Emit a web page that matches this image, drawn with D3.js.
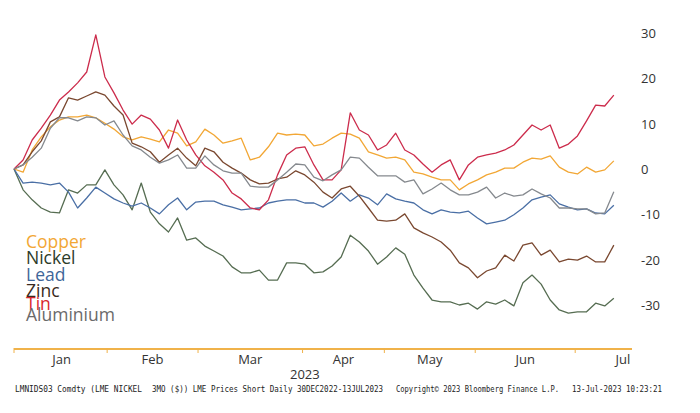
<!DOCTYPE html>
<html>
<head>
<meta charset="utf-8">
<script src="https://cdn.jsdelivr.net/npm/d3@7"></script>
<style>
  body { margin: 0; background: #fff; }
  svg { display: block; }
</style>
</head>
<body>
<svg id="chart" width="700" height="413"></svg>
<script>
// trading-day index since 30 Dec 2022, one value every second session
const days = d3.range(0, 133, 2);

// % change since 30 Dec 2022 (LME 3M prices)
const copper = [0, -0.7, 4.2, 7.1, 9.3, 10.8, 11.5, 11.5, 11.9, 11.3, 10.1, 8.8, 7.1, 6.4, 7.1, 6.6, 6.0, 8.6, 7.9, 5.1, 6.0, 8.8, 7.5, 5.7, 6.2, 6.8, 2.0, 2.6, 4.9, 7.9, 7.5, 7.7, 7.5, 5.1, 5.5, 6.8, 7.9, 7.7, 6.8, 3.8, 3.1, 2.4, 2.6, 2.0, -0.7, -1.1, -1.8, -2.4, -2.4, -4.6, -3.3, -2.4, -1.3, -0.7, 0.2, 0.2, 1.5, 2.4, 2.2, 2.9, 0.4, -0.7, -1.1, 0.4, -0.7, -0.2, 1.8];
const nickel = [0, -4.6, -6.8, -8.6, -9.5, -9.7, -4.6, -5.3, -3.5, -3.5, -0.2, -3.5, -5.7, -9.0, -3.1, -9.5, -12.1, -13.9, -10.8, -15.7, -15.2, -17.0, -18.1, -19.2, -21.6, -22.9, -22.9, -22.3, -24.5, -24.5, -20.7, -20.7, -21.0, -22.9, -22.7, -21.4, -19.4, -14.6, -16.1, -18.1, -21.0, -19.4, -17.4, -18.8, -23.4, -26.3, -28.9, -29.3, -29.3, -30.0, -29.6, -30.9, -29.3, -29.8, -28.9, -30.2, -25.1, -23.4, -25.4, -28.9, -31.1, -31.8, -31.5, -31.5, -29.6, -30.2, -28.5];
const lead = [0, -3.1, -2.9, -3.1, -3.5, -3.1, -5.1, -8.6, -6.4, -4.0, -5.3, -6.6, -7.5, -8.2, -7.5, -8.6, -9.9, -7.9, -6.4, -9.0, -7.3, -7.1, -7.1, -7.9, -8.4, -9.0, -8.8, -8.6, -7.5, -7.1, -6.8, -6.8, -7.5, -7.5, -8.4, -7.1, -5.3, -7.1, -5.7, -6.4, -7.9, -5.5, -6.6, -7.1, -7.5, -9.0, -9.9, -9.0, -9.5, -9.7, -9.3, -10.8, -12.1, -11.7, -11.3, -10.1, -8.6, -6.8, -6.2, -5.7, -7.7, -8.4, -9.0, -8.8, -9.7, -9.9, -8.0];
const zinc = [0, 0.9, 3.8, 6.2, 10.4, 11.5, 15.7, 15.2, 16.1, 17.0, 16.3, 13.9, 11.9, 5.7, 4.9, 3.8, 1.5, 3.1, 4.6, 2.4, 0.7, 4.6, 3.8, 1.5, 0.2, -0.9, -2.4, -3.3, -3.1, -2.2, -1.8, -0.4, -1.3, -2.9, -5.1, -6.4, -4.4, -3.8, -6.0, -8.6, -11.3, -11.5, -11.3, -9.9, -13.0, -14.1, -15.0, -16.1, -17.9, -20.7, -21.8, -24.0, -22.5, -21.8, -19.0, -20.3, -16.8, -16.3, -19.0, -17.9, -20.5, -19.9, -20.1, -19.2, -20.5, -20.5, -16.8];
const tin = [0, 2.0, 6.4, 9.0, 11.9, 15.2, 17.0, 19.0, 21.4, 29.6, 20.3, 16.8, 13.0, 9.9, 11.9, 11.0, 8.6, 4.6, 10.8, 6.4, 3.1, 0.7, -0.7, -2.4, -5.3, -6.6, -8.6, -9.0, -6.8, -1.3, 3.1, 4.6, 4.9, 0.9, -2.4, -2.4, -0.2, 12.4, 8.6, 7.5, 4.2, 5.3, 7.9, 4.2, 3.1, 1.1, -0.7, 0.9, 2.0, -2.4, 0.9, 2.6, 3.1, 3.5, 4.2, 5.3, 7.5, 9.7, 8.6, 9.7, 4.6, 5.5, 7.3, 10.6, 14.1, 13.9, 16.3];
const aluminium = [0, 0.9, 2.6, 4.6, 9.0, 11.3, 11.3, 10.6, 11.5, 11.3, 9.7, 10.6, 7.5, 5.1, 4.2, 2.6, 1.3, 2.0, 3.1, 0.2, 0.2, 2.9, 0.9, -0.4, -0.9, -0.9, -3.8, -4.0, -4.0, -2.4, -0.7, 1.1, 0.9, -1.8, -2.6, -1.3, -0.2, 2.6, 2.4, 0.4, -1.5, -1.5, -1.5, -2.9, -2.4, -5.5, -4.4, -3.1, -4.6, -5.7, -5.7, -5.1, -4.0, -6.4, -5.3, -6.0, -5.7, -4.4, -5.5, -6.4, -8.6, -8.6, -8.8, -8.8, -9.9, -9.7, -5.0];

const seriesNames = ["Copper", "Nickel", "Lead", "Zinc", "Tin", "Aluminium"];
const seriesValues = [copper, nickel, lead, zinc, tin, aluminium];

// month boundaries in trading days, and month names
const monthEdges = [0.5, 20.5, 40.5, 63.5, 81.5, 101.5, 123.5, 144.5];
const monthNames = ["Jan", "Feb", "Mar", "Apr", "May", "Jun", "Jul"];
const yTicks = [30, 20, 10, 0, -10, -20, -30];
const yearLabel = "2023";
const footer = [
    "LMNIDS03 Comdty (LME NICKEL",
    "3MO ($)) LME Prices Short  Daily 30DEC2022-13JUL2023",
    "Copyright\u00a9 2023 Bloomberg Finance L.P.",
    "13-Jul-2023 10:23:21"
];

const colors = {
    "Copper": "#f2a735",
    "Nickel": "#566d52",
    "Lead": "#4a6fa5",
    "Zinc": "#7a4830",
    "Tin": "#cc2c4c",
    "Aluminium": "#85898e"
};
const legendColors = {
    "Copper": "#f2a735",
    "Nickel": "#2c3b29",
    "Lead": "#3f6699",
    "Zinc": "#3a2a20",
    "Tin": "#d8262e",
    "Aluminium": "#6a6a6a"
};

const svg = d3.select("#chart");
const x = d3.scaleLinear().domain([0, 136]).range([14, 632]);
const y = d3.scaleLinear().domain([-30, 30]).range([305, 33]);

// lines
const line = d3.line()
    .x((d, i) => x(days[i]))
    .y(d => y(d));
svg.append("g")
    .selectAll("path")
    .data(seriesNames)
    .enter().append("path")
    .attr("d", (name, i) => line(seriesValues[i]))
    .attr("fill", "none")
    .attr("stroke", name => colors[name])
    .attr("stroke-width", 1.3)
    .attr("stroke-linejoin", "round");

// y axis labels on the right
svg.append("g")
    .selectAll("text")
    .data(yTicks)
    .enter().append("text")
    .attr("x", 641)
    .attr("y", d => y(d) + 5)
    .attr("font-family", "Open Sans, sans-serif")
    .attr("font-size", 13)
    .attr("fill", "#333")
    .text(d => d < 0 ? "-" + Math.abs(d) : d);

// x axis: orange baseline with month ticks
const axisY = 349;
const xAxis = svg.append("g");
xAxis.append("line")
    .attr("x1", x(0)).attr("x2", x(136))
    .attr("y1", axisY).attr("y2", axisY)
    .attr("stroke", "#f0b24a")
    .attr("stroke-width", 2);
xAxis.selectAll("line.tick")
    .data([0].concat(monthEdges.slice(1, 7)))
    .enter().append("line")
    .attr("class", "tick")
    .attr("x1", d => x(d)).attr("x2", d => x(d))
    .attr("y1", axisY - 1).attr("y2", axisY + 4)
    .attr("stroke", "#f0b24a")
    .attr("stroke-width", 1);
xAxis.selectAll("text.month")
    .data(monthNames)
    .enter().append("text")
    .attr("class", "month")
    .attr("x", (d, i) => x((monthEdges[i] + monthEdges[i + 1]) / 2))
    .attr("y", 364)
    .attr("text-anchor", "middle")
    .attr("font-family", "Open Sans, sans-serif")
    .attr("font-size", 13)
    .attr("fill", "#333")
    .text(d => d);
xAxis.append("text")
    .attr("x", x(64))
    .attr("y", 379)
    .attr("text-anchor", "middle")
    .attr("font-family", "Open Sans, sans-serif")
    .attr("font-size", 13)
    .attr("fill", "#333")
    .text(yearLabel);

// legend as coloured words, stacked tightly as in the source
const legendY = [248, 264, 281, 297, 310, 321];
svg.append("g")
    .selectAll("text")
    .data(seriesNames)
    .enter().append("text")
    .attr("x", 26)
    .attr("y", (d, i) => legendY[i])
    .attr("font-family", "Open Sans, sans-serif")
    .attr("font-size", 17.5)
    .attr("fill", d => legendColors[d])
    .text(d => d);

// footer
const footerX = [[15, 127], [152, 231], [396, 163], [572, 90]];
svg.append("g")
    .selectAll("text")
    .data(footer)
    .enter().append("text")
    .attr("x", (d, i) => footerX[i][0])
    .attr("y", 392)
    .attr("textLength", (d, i) => footerX[i][1])
    .attr("lengthAdjust", "spacingAndGlyphs")
    .attr("font-family", "DejaVu Sans Mono, monospace")
    .attr("font-size", 9.5)
    .attr("fill", "#222")
    .text(d => d);
</script>
</body>
</html>
